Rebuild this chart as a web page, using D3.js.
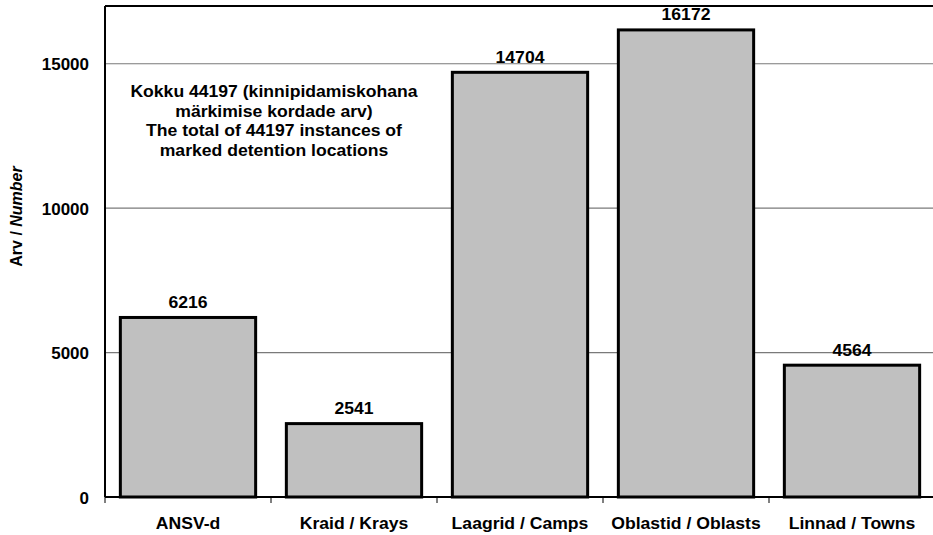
<!DOCTYPE html>
<html>
<head>
<meta charset="utf-8">
<script src="https://cdn.jsdelivr.net/npm/d3@7"></script>
<style>
  html, body { margin: 0; padding: 0; background: #fff; }
  svg { display: block; font-family: "Liberation Sans", Arial, sans-serif; font-weight: bold; }
</style>
</head>
<body>
<svg id="chart" width="933" height="535"></svg>
<script>
// Detention location categories and their counts
const categories = ["ANSV-d", "Kraid / Krays", "Laagrid / Camps", "Oblastid / Oblasts", "Linnad / Towns"];
const counts = [6216, 2541, 14704, 16172, 4564];
const yTicks = [0, 5000, 10000, 15000];
const yMax = 17000;
const noteLines = [
  "Kokku 44197 (kinnipidamiskohana",
  "märkimise kordade arv)",
  "The total of 44197 instances of",
  "marked detention locations"
];

const svg = d3.select("#chart");
const plotL = 105, plotR = 935, plotT = 6, plotB = 497;
const stretch = 1.1; // horizontal widening of label glyphs

const slot = d3.scaleBand().domain(categories).range([plotL, plotR]).padding(0);
const x = d3.scaleBand().domain(categories).range([plotL, plotR])
  .paddingInner(0.185).paddingOuter(0.0925);
const y = d3.scaleLinear().domain([0, yMax]).range([plotB, plotT]);

// horizontal gridlines
svg.append("g").selectAll("line")
  .data(yTicks.filter(d => d > 0))
  .join("line")
  .attr("x1", plotL).attr("x2", plotR)
  .attr("y1", d => y(d)).attr("y2", d => y(d))
  .attr("stroke", "#7a7a7a").attr("stroke-width", 1.2);

// plot frame: top border
svg.append("line")
  .attr("x1", plotL).attr("x2", plotR)
  .attr("y1", y(yMax)).attr("y2", y(yMax))
  .attr("stroke", "#000").attr("stroke-width", 2);

// y axis
const yAxis = d3.axisLeft(y).tickValues(yTicks).tickSize(0).tickPadding(16).tickFormat(d3.format("d"));
const gy = svg.append("g").attr("transform", `translate(${plotL},0)`).call(yAxis);
gy.select(".domain").attr("stroke", "#000").attr("stroke-width", 2).attr("d", `M0,${plotT}V${plotB}`);
gy.selectAll("text")
  .attr("font-size", 17).attr("font-weight", "bold").attr("fill", "#000")
  .attr("font-family", "'Liberation Sans', Arial, sans-serif")
  .attr("dy", "0.36em");

// x axis with ticks at category boundaries
svg.append("line")
  .attr("x1", plotL).attr("x2", plotR)
  .attr("y1", plotB).attr("y2", plotB)
  .attr("stroke", "#000").attr("stroke-width", 2);
const bounds = categories.map(c => slot(c)).concat([plotR]);
svg.append("g").selectAll("line")
  .data(bounds)
  .join("line")
  .attr("x1", d => d).attr("x2", d => d)
  .attr("y1", plotB).attr("y2", plotB + 6)
  .attr("stroke", "#000").attr("stroke-width", 1);

// bars
svg.append("g").selectAll("rect")
  .data(categories)
  .join("rect")
  .attr("x", d => x(d))
  .attr("width", x.bandwidth())
  .attr("y", (d, i) => y(counts[i]))
  .attr("height", (d, i) => y(0) - y(counts[i]))
  .attr("fill", "#c0c0c0")
  .attr("stroke", "#000")
  .attr("stroke-width", 3);

// value labels
svg.append("g").selectAll("text")
  .data(categories)
  .join("text")
  .attr("transform", (d, i) => `translate(${x(d) + x.bandwidth() / 2},${y(counts[i]) - 9.5}) scale(${stretch},1)`)
  .attr("text-anchor", "middle")
  .attr("font-size", 16)
  .text((d, i) => counts[i]);

// category labels
svg.append("g").selectAll("text")
  .data(categories)
  .join("text")
  .attr("transform", d => `translate(${slot(d) + slot.bandwidth() / 2},529) scale(${stretch},1)`)
  .attr("text-anchor", "middle")
  .attr("font-size", 16)
  .text(d => d);

// y axis title
const yTitle = svg.append("text")
  .attr("transform", `translate(22,${(plotT + plotB) / 2 - 35}) rotate(-90)`)
  .attr("text-anchor", "middle")
  .attr("font-size", 16);
yTitle.append("tspan").text("Arv / ");
yTitle.append("tspan").attr("font-style", "italic").text("Number");

// total note
svg.append("g").selectAll("text")
  .data(noteLines)
  .join("text")
  .attr("transform", (d, i) => `translate(274,${97 + i * 19.6}) scale(${stretch},1)`)
  .attr("text-anchor", "middle")
  .attr("font-size", 16)
  .text(d => d);
</script>
</body>
</html>
